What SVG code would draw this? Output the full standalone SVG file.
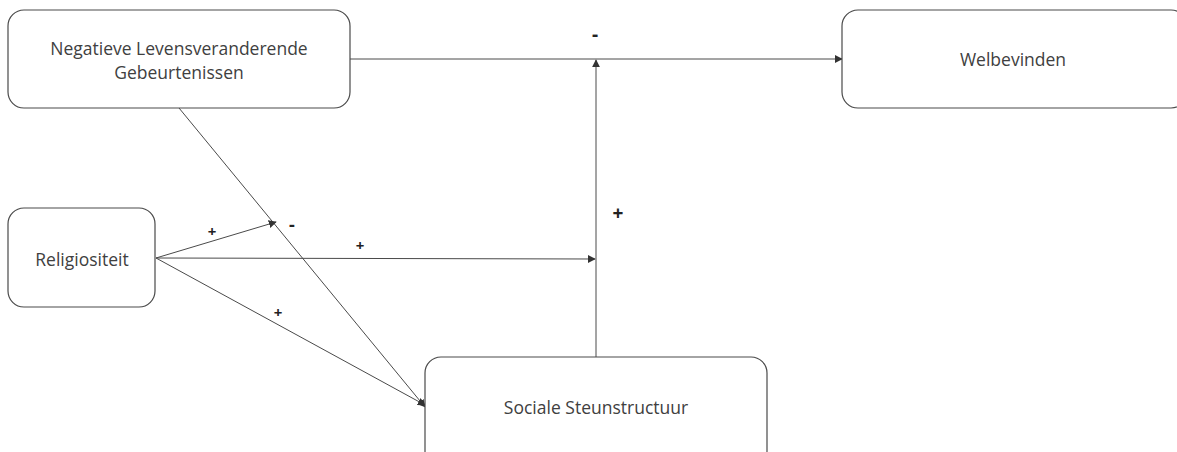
<svg xmlns="http://www.w3.org/2000/svg" width="1177" height="452" viewBox="0 0 1177 452">
  <style>
    .node rect { fill: #ffffff; stroke: #4a4a4a; stroke-width: 1.2; }
    .node text { font-family: "Open Sans", "Liberation Sans", sans-serif; font-size: 17.5px; fill: #404040; text-anchor: middle; }
    .edge { stroke: #4a4a4a; stroke-width: 1; fill: none; marker-end: url(#arrow); }
    .sign { font-family: "Open Sans", "Liberation Sans", sans-serif; font-weight: bold; fill: #222; text-anchor: middle; }
  </style>
  <defs>
    <marker id="arrow" viewBox="0 0 10 10" refX="9" refY="5" markerWidth="8" markerHeight="8" markerUnits="userSpaceOnUse" orient="auto">
      <path d="M0,0 L10,5 L0,10 z" fill="#333"/>
    </marker>
  </defs>
  <rect width="1177" height="452" fill="#ffffff"/>

  <g id="connectors">
    <line class="edge" x1="350" y1="59" x2="842" y2="59"/>
    <line class="edge" x1="179" y1="108" x2="425" y2="407"/>
    <line class="edge" x1="156" y1="258" x2="276" y2="222"/>
    <line class="edge" x1="156" y1="258" x2="595" y2="259"/>
    <line class="edge" x1="156" y1="258" x2="425" y2="405"/>
    <line class="edge" x1="596" y1="357" x2="596" y2="60"/>
  </g>

  <g id="labels">
    <text class="sign" x="595" y="41" font-size="19">-</text>
    <text class="sign" x="618" y="220" font-size="19">+</text>
    <text class="sign" x="212" y="237" font-size="15">+</text>
    <text class="sign" x="292" y="231" font-size="18">-</text>
    <text class="sign" x="360" y="251" font-size="15">+</text>
    <text class="sign" x="278" y="318" font-size="15">+</text>
  </g>

  <g id="node-negatieve" class="node">
    <rect x="8" y="10" width="342" height="98" rx="16"/>
    <text x="179" y="55">Negatieve Levensveranderende</text>
    <text x="179" y="79">Gebeurtenissen</text>
  </g>

  <g id="node-welbevinden" class="node">
    <rect x="842" y="10" width="345" height="98" rx="16"/>
    <text x="1013" y="66">Welbevinden</text>
  </g>

  <g id="node-religiositeit" class="node">
    <rect x="8" y="208" width="147" height="99" rx="16"/>
    <text x="82" y="266">Religiositeit</text>
  </g>

  <g id="node-sociale" class="node">
    <rect x="425" y="357" width="342" height="110" rx="16"/>
    <text x="596" y="414">Sociale Steunstructuur</text>
  </g>
</svg>
